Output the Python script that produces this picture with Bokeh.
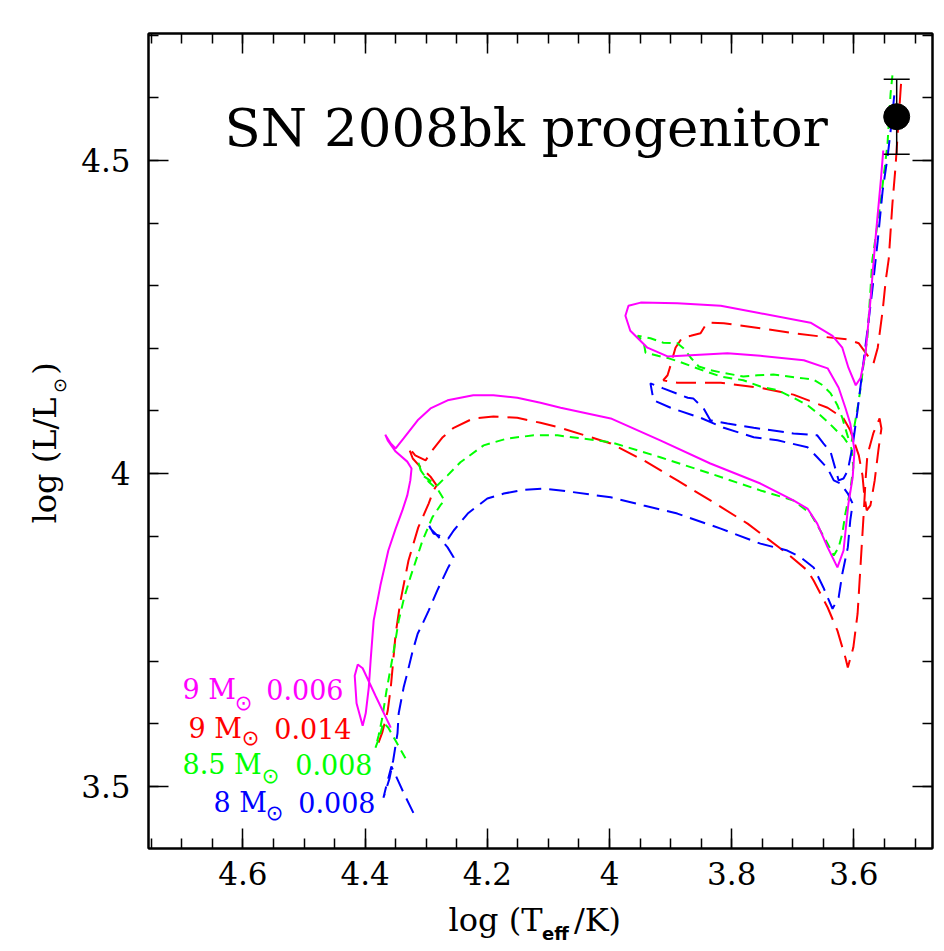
import math
from bokeh.plotting import figure
from bokeh.models import Range1d, LinearAxis, FixedTicker, Label, CustomJSTickFormatter
from bokeh.embed import file_html
from bokeh.resources import INLINE

# ---------------- data (log Teff, log L/Lsun) ----------------
mag_T = [4.358,4.383,4.404,4.412,4.417,4.414,4.404,4.399,4.394,4.391,4.386,4.375,4.362,4.350,4.339,4.331,4.326,4.324,4.331,4.350,4.363,4.367,4.358,4.350,4.337,4.314,4.293,4.265,4.223,4.190,4.151,4.113,4.080,3.998,3.917,3.835,3.753,3.699,3.676,3.660,3.643,3.627,3.617,3.609,3.602,3.599,3.606,3.614,3.625,3.643,3.682,3.753,3.807,3.905,3.938,3.966,3.974,3.969,3.949,3.889,3.818,3.753,3.671,3.635,3.619,3.609,3.597,3.589,3.581,3.573,3.565,3.556,3.552]
mag_L = [3.594,3.645,3.689,3.695,3.677,3.633,3.597,3.617,3.658,3.701,3.765,3.821,3.877,3.912,3.941,3.965,3.989,4.008,4.019,4.035,4.053,4.062,4.048,4.040,4.056,4.085,4.104,4.117,4.125,4.125,4.121,4.113,4.105,4.088,4.053,4.016,3.984,3.957,3.944,3.920,3.882,3.850,3.877,3.952,3.994,4.037,4.080,4.105,4.137,4.168,4.181,4.188,4.192,4.187,4.201,4.228,4.252,4.268,4.273,4.272,4.268,4.256,4.241,4.220,4.201,4.169,4.141,4.153,4.192,4.276,4.372,4.468,4.516]

red_T = [4.378,4.372,4.363,4.358,4.355,4.350,4.342,4.329,4.313,4.296,4.288,4.283,4.293,4.309,4.322,4.329,4.318,4.301,4.290,4.273,4.255,4.223,4.190,4.151,4.113,4.080,3.998,3.944,3.889,3.835,3.774,3.709,3.676,3.666,3.643,3.627,3.614,3.610,3.601,3.594,3.589,3.584,3.581,3.578,3.568,3.558,3.555,3.560,3.566,3.573,3.579,3.583,3.586,3.592,3.606,3.617,3.643,3.699,3.753,3.818,3.889,3.912,3.905,3.900,3.897,3.892,3.881,3.867,3.851,3.846,3.840,3.813,3.753,3.699,3.655,3.609,3.592,3.581,3.568,3.561,3.553,3.548,3.543,3.537,3.532,3.524,3.522]
red_L = [3.570,3.586,3.621,3.658,3.690,3.744,3.797,3.861,3.914,3.952,3.973,3.981,3.995,4.010,4.024,4.042,4.029,4.021,4.037,4.058,4.073,4.088,4.091,4.089,4.081,4.073,4.048,4.021,3.989,3.957,3.920,3.872,3.845,3.829,3.786,3.749,3.706,3.690,3.722,3.776,3.856,3.936,3.989,4.029,4.065,4.088,4.072,4.037,3.989,3.949,3.941,3.965,3.997,4.029,4.069,4.088,4.105,4.126,4.137,4.145,4.145,4.149,4.157,4.173,4.184,4.201,4.217,4.220,4.224,4.232,4.241,4.240,4.232,4.224,4.219,4.214,4.208,4.193,4.176,4.201,4.260,4.308,4.343,4.431,4.489,4.607,4.636]

grn_T = [4.334,4.350,4.362,4.370,4.376,4.383,4.378,4.372,4.365,4.354,4.345,4.336,4.326,4.306,4.290,4.277,4.270,4.280,4.296,4.309,4.313,4.306,4.282,4.265,4.244,4.206,4.167,4.124,4.085,3.998,3.917,3.835,3.753,3.699,3.671,3.655,3.643,3.633,3.625,3.619,3.614,3.606,3.601,3.604,3.617,3.627,3.638,3.655,3.676,3.699,3.725,3.753,3.781,3.818,3.851,3.887,3.903,3.921,3.941,3.944,3.954,3.933,3.912,3.889,3.879,3.867,3.854,3.835,3.815,3.781,3.758,3.732,3.682,3.666,3.651,3.638,3.627,3.619,3.614,3.609,3.604,3.599,3.594,3.589,3.584,3.578,3.573,3.570,3.556,3.545,3.540,3.537]
grn_L = [3.545,3.573,3.594,3.602,3.581,3.562,3.581,3.609,3.653,3.712,3.765,3.802,3.834,3.893,3.930,3.949,3.957,3.973,3.987,4.005,4.018,3.997,3.981,3.997,4.018,4.045,4.056,4.061,4.061,4.050,4.026,4.000,3.973,3.957,3.936,3.909,3.888,3.869,3.882,3.904,3.936,3.973,4.010,4.040,4.058,4.067,4.078,4.093,4.109,4.121,4.133,4.139,4.149,4.155,4.166,4.179,4.184,4.188,4.193,4.209,4.220,4.216,4.209,4.208,4.200,4.185,4.171,4.165,4.161,4.155,4.157,4.158,4.152,4.150,4.141,4.128,4.109,4.089,4.072,4.056,4.050,4.077,4.105,4.137,4.176,4.217,4.292,4.340,4.436,4.527,4.607,4.636]

blu_T = [4.321,4.337,4.352,4.357,4.365,4.370,4.360,4.354,4.347,4.345,4.337,4.331,4.322,4.314,4.306,4.296,4.282,4.264,4.255,4.265,4.282,4.293,4.298,4.288,4.264,4.255,4.232,4.219,4.200,4.173,4.141,4.108,4.080,3.998,3.944,3.889,3.818,3.753,3.709,3.687,3.666,3.650,3.635,3.625,3.619,3.610,3.606,3.602,3.610,3.622,3.633,3.643,3.660,3.676,3.725,3.764,3.813,3.851,3.900,3.928,3.933,3.912,3.872,3.863,3.846,3.835,3.807,3.764,3.699,3.660,3.650,3.638,3.625,3.617,3.610,3.602,3.594,3.586,3.578,3.570,3.561,3.553,3.545,3.538,3.534]
blu_L = [3.458,3.490,3.522,3.532,3.502,3.482,3.513,3.542,3.585,3.617,3.658,3.681,3.717,3.744,3.760,3.781,3.813,3.850,3.866,3.882,3.901,3.912,3.922,3.904,3.896,3.909,3.936,3.946,3.960,3.968,3.974,3.976,3.973,3.962,3.949,3.936,3.912,3.888,3.877,3.866,3.850,3.818,3.784,3.802,3.840,3.882,3.925,3.952,3.968,3.984,3.989,4.008,4.026,4.042,4.053,4.058,4.073,4.089,4.105,4.117,4.144,4.136,4.121,4.120,4.104,4.085,4.080,4.073,4.064,4.061,4.048,4.034,3.989,3.992,4.005,4.045,4.101,4.165,4.228,4.292,4.372,4.452,4.505,4.564,4.604]

# progenitor
sn_T = [3.53]
sn_L = [4.57]
sn_err = [0.06]

# legend
leg_mass = ["9", "9", "8.5", "8"]
leg_Z = ["0.006", "0.014", "0.008", "0.008"]
leg_colors = ["#ff00ff", "#ff0000", "#00ff00", "#0000ff"]

x_major = [4.6, 4.4, 4.2, 4.0, 3.8, 3.6]
x_minor = [round(4.75 - 0.05 * i, 2) for i in range(26)]
y_major = [3.5, 4.0, 4.5]
y_minor = [round(3.4 + 0.1 * i, 2) for i in range(14)]

# ---------------- figure ----------------
FONT = "DejaVu Serif"
X0, X1 = 4.7545, 3.4714
Y0, Y1 = 3.4010, 4.7029

p = figure(width=944, height=951, output_backend="svg", toolbar_location=None,
           x_range=Range1d(X0, X1), y_range=Range1d(Y0, Y1),
           min_border_left=148, min_border_right=12, min_border_top=33, min_border_bottom=103,
           background_fill_color="white", border_fill_color="white")
p.grid.visible = False
p.outline_line_color = "black"
p.outline_line_width = 2

fmt = CustomJSTickFormatter(code="return String(Number(tick.toFixed(2)));")


def X(px):
    return 4 - (px - 609) / 611.0


def Y(py):
    return 4 - (py - 473) / 626.0


def style_axis(ax, major, minor, show_labels, standoff=18):
    ax.ticker = FixedTicker(ticks=major, minor_ticks=minor)
    ax.major_tick_in = 20
    ax.major_tick_out = 0
    ax.minor_tick_in = 10
    ax.minor_tick_out = 0
    ax.major_tick_line_width = 1.5
    ax.minor_tick_line_width = 1.5
    ax.major_tick_line_color = "black"
    ax.minor_tick_line_color = "black"
    ax.axis_line_color = "black"
    ax.axis_line_width = 2
    ax.formatter = fmt
    ax.major_label_text_font = FONT
    if show_labels:
        ax.major_label_text_font_size = "31px"
        ax.major_label_text_color = "black"
        ax.major_label_standoff = standoff
    else:
        ax.major_label_text_font_size = "2px"
        ax.major_label_text_color = None
        ax.major_label_standoff = 0


style_axis(p.xaxis[0], x_major, x_minor, True, standoff=13)
style_axis(p.yaxis[0], y_major, y_minor, True, standoff=18)
top_ax = LinearAxis()
right_ax = LinearAxis()
style_axis(top_ax, x_major, x_minor, False)
style_axis(right_ax, y_major, y_minor, False)
p.add_layout(top_ax, "above")
p.add_layout(right_ax, "right")


# axis titles built from label-only axes (so that a subscript can sit beside the text)
def text_axis(positions, texts, size, standoff, font=FONT, style="normal", vertical=False):
    ax = LinearAxis()
    ax.ticker = FixedTicker(ticks=positions, minor_ticks=[])
    ax.formatter = CustomJSTickFormatter(
        args=dict(t=positions, s=texts),
        code="for (let i = 0; i < t.length; i++) { if (Math.abs(t[i] - tick) < 1e-9) return s[i]; } return '';")
    ax.major_tick_line_color = None
    ax.minor_tick_line_color = None
    ax.axis_line_color = None
    ax.major_tick_in = 0
    ax.major_tick_out = 0
    ax.minor_tick_in = 0
    ax.minor_tick_out = 0
    ax.major_label_text_font = font
    ax.major_label_text_font_size = f"{size}px"
    ax.major_label_text_font_style = style
    ax.major_label_text_color = "black"
    ax.major_label_standoff = standoff
    if vertical:
        ax.major_label_orientation = "vertical"
    return ax


# x title: "log (T" + subscript "eff" + "/K)"
p.add_layout(text_axis([X(495), X(597)], ["log (T", "/K)"], 32, 13), "below")
p.add_layout(text_axis([X(555)], ["eff"], 18, -19, font="DejaVu Sans", style="bold"), "below")
# y title: "log (L/L" + subscript sun + ")"
p.add_layout(text_axis([Y(385)], ["\u2299"], 18, 8, font="DejaVu Sans", vertical=True), "left")
p.add_layout(text_axis([Y(460), Y(368)], ["log (L/L", ")"], 32, -18, vertical=True), "left")

# ---------------- tracks ----------------
p.line(red_T, red_L, line_color="#ff0000", line_width=2, line_dash="20 9")
p.line(grn_T, grn_L, line_color="#00ff00", line_width=2, line_dash="9 6")
p.line(blu_T, blu_L, line_color="#0000ff", line_width=2, line_dash="16 8")
p.line(mag_T, mag_L, line_color="#ff00ff", line_width=2)

# progenitor with error bar
lo = [l - e for l, e in zip(sn_L, sn_err)]
hi = [l + e for l, e in zip(sn_L, sn_err)]
p.segment(x0=sn_T, y0=lo, x1=sn_T, y1=hi, line_color="black", line_width=1.5)
p.scatter(sn_T, lo, marker="dash", size=26, line_color="black", line_width=1.5)
p.scatter(sn_T, hi, marker="dash", size=26, line_color="black", line_width=1.5)
p.scatter(sn_T, sn_L, marker="circle", size=26, fill_color="black", line_color="black")


# ---------------- text inside the frame ----------------
def lab(text, px, py, size, color="black", align="left", baseline="middle",
        font=FONT, style="normal"):
    p.add_layout(Label(x=X(px), y=Y(py), text=text, text_font=font,
                       text_font_size=f"{size}px", text_color=color,
                       text_align=align, text_baseline=baseline,
                       text_font_style=style))


lab("SN 2008bk progenitor", 224, 127, 53)

# legend rows: (start of mass, sun centre x, sun centre y, end of Z, text middle y)
rows = [(182, 243, 702, 343, 689), (188, 250, 737, 351, 728),
        (182, 270, 775, 372, 764), (213, 274, 812, 375, 802)]
for (x0, sx, sy, x1, my), m, z, c in zip(rows, leg_mass, leg_Z, leg_colors):
    lab(m + " M", x0, my, 27, color=c)
    lab("\u2299", sx, sy, 21, color=c, align="center", font="DejaVu Sans")
    lab(z, x1, my, 27, color=c, align="right")

open("out.html", "w").write(file_html(p, INLINE))
